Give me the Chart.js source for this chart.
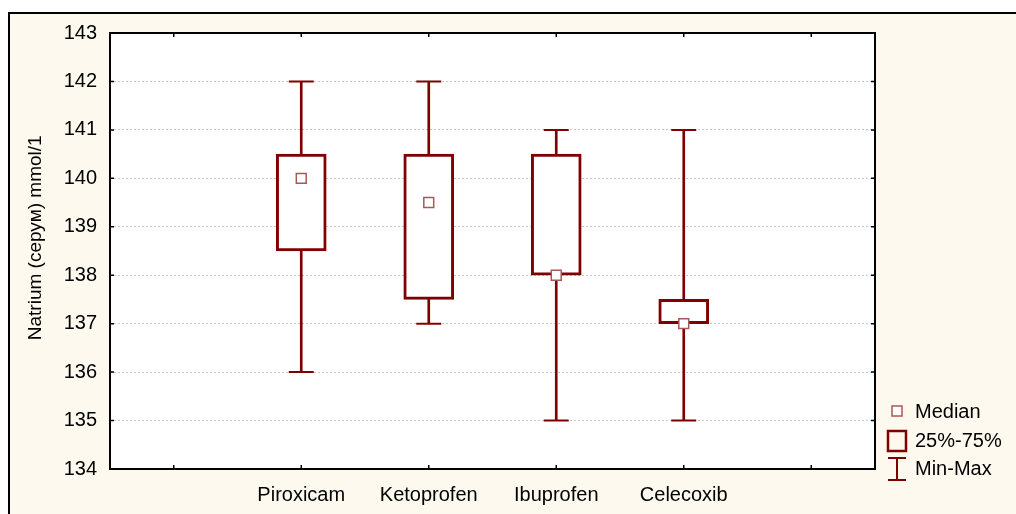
<!DOCTYPE html>
<html>
<head>
<meta charset="utf-8">
<script src="https://cdn.jsdelivr.net/npm/chart.js@4.4.1/dist/chart.umd.min.js"></script>
<style>
    html, body { margin: 0; padding: 0; background: #ffffff; overflow: hidden; }
    #frame {
        position: absolute; left: 8px; top: 12px; width: 1100px; height: 600px;
        border-left: 2px solid #000; border-top: 2px solid #000;
        background: #fdf9ee;
    }
    #boxChart { position: absolute; left: 0; top: 0; }
</style>
</head>
<body>
<div id="frame"></div>
<canvas id="boxChart" width="1016" height="514"></canvas>
<script>
// =========================
// DATA
// =========================
const categories = ["", "Piroxicam", "Ketoprofen", "Ibuprofen", "Celecoxib", ""];
const minValues = [null, 136, 137, 135, 135, null];
const maxValues = [null, 142, 142, 141, 141, null];
const q1Values = [null, 138.5, 137.5, 138, 137, null];
const q3Values = [null, 140.5, 140.5, 140.5, 137.5, null];
const medianValues = [null, 140, 139.5, 138, 137, null];
const yTicks = [134, 135, 136, 137, 138, 139, 140, 141, 142, 143];
const legendLabels = ["Median", "25%-75%", "Min-Max"];

const DARK_RED = "#800000";
const MEDIAN_RED = "#a85858";
const FONT = "'Liberation Sans', Arial, sans-serif";

const boxData = categories.map((c, i) => (q1Values[i] == null ? null : [q1Values[i], q3Values[i]]));
const whiskerData = categories.map((c, i) => (minValues[i] == null ? null : [minValues[i], maxValues[i]]));

// =========================
// PLUGINS
// =========================

// white plot area, frame, inward ticks
const plotFrame = {
    id: "plotFrame",
    beforeDraw(chart) {
        const { ctx, chartArea: a } = chart;
        ctx.save();
        ctx.fillStyle = "#ffffff";
        ctx.fillRect(a.left, a.top, a.right - a.left, a.bottom - a.top);
        ctx.restore();
    },
    afterDraw(chart) {
        const { ctx, chartArea: a, scales } = chart;
        ctx.save();
        ctx.strokeStyle = "#000";
        ctx.lineWidth = 2;
        ctx.strokeRect(a.left, a.top, a.right - a.left, a.bottom - a.top);

        ctx.lineWidth = 1.5;
        ctx.beginPath();
        scales.y.ticks.forEach((t, i) => {
            const y = scales.y.getPixelForTick(i);
            ctx.moveTo(a.left, y); ctx.lineTo(a.left + 4, y);
            ctx.moveTo(a.right, y); ctx.lineTo(a.right - 4, y);
        });
        scales.x.ticks.forEach((t, i) => {
            const x = scales.x.getPixelForTick(i);
            ctx.moveTo(x, a.top); ctx.lineTo(x, a.top + 4);
            ctx.moveTo(x, a.bottom); ctx.lineTo(x, a.bottom - 4);
        });
        ctx.stroke();
        ctx.restore();
    },
};

// legend on the right, below the plot
const boxLegend = {
    id: "boxLegend",
    afterDraw(chart) {
        const { ctx, chartArea: a } = chart;
        const ix = a.right + 22;
        const tx = a.right + 40;
        const rows = [a.bottom - 57, a.bottom - 28, a.bottom];
        ctx.save();

        // median marker
        ctx.strokeStyle = MEDIAN_RED;
        ctx.lineWidth = 1.5;
        ctx.fillStyle = "#fff";
        ctx.fillRect(ix - 5, rows[0] - 6, 10, 10);
        ctx.strokeRect(ix - 5, rows[0] - 6, 10, 10);

        // box
        ctx.strokeStyle = DARK_RED;
        ctx.lineWidth = 2.5;
        ctx.strokeRect(ix - 9, rows[1] - 10, 18, 20);

        // whisker
        ctx.lineWidth = 2;
        ctx.beginPath();
        ctx.moveTo(ix - 9, rows[2] - 11); ctx.lineTo(ix + 9, rows[2] - 11);
        ctx.moveTo(ix, rows[2] - 11); ctx.lineTo(ix, rows[2] + 11);
        ctx.moveTo(ix - 9, rows[2] + 11); ctx.lineTo(ix + 9, rows[2] + 11);
        ctx.stroke();

        ctx.fillStyle = "#000";
        ctx.font = "20px " + FONT;
        ctx.textBaseline = "middle";
        ctx.textAlign = "left";
        legendLabels.forEach((l, i) => ctx.fillText(l, tx, rows[i]));
        ctx.restore();
    },
};

// =========================
// CHART
// =========================
const ctx = document.getElementById("boxChart").getContext("2d");

new Chart(ctx, {
    data: {
        labels: categories,
        datasets: [
            {
                type: "bar",
                label: "Min-Max",
                data: whiskerData,
                backgroundColor: DARK_RED,
                borderWidth: 0,
                barThickness: 2,
                grouped: false,
                order: 5,
            },
            {
                type: "bar",
                label: "25%-75%",
                data: boxData,
                backgroundColor: "#ffffff",
                borderColor: DARK_RED,
                borderWidth: 3,
                borderSkipped: false,
                barThickness: 50,
                grouped: false,
                order: 4,
            },
            {
                type: "line",
                label: "Min",
                data: minValues,
                showLine: false,
                pointStyle: "line",
                pointRadius: 12.5,
                pointBorderWidth: 2,
                pointBorderColor: DARK_RED,
                order: 3,
            },
            {
                type: "line",
                label: "Max",
                data: maxValues,
                showLine: false,
                pointStyle: "line",
                pointRadius: 12.5,
                pointBorderWidth: 2,
                pointBorderColor: DARK_RED,
                order: 3,
            },
            {
                type: "line",
                label: "Median",
                data: medianValues,
                showLine: false,
                pointStyle: "rect",
                pointRadius: 7,
                pointBorderWidth: 1.5,
                pointBorderColor: MEDIAN_RED,
                pointBackgroundColor: "#ffffff",
                order: 1,
            },
        ],
    },
    options: {
        responsive: false,
        animation: false,
        events: [],
        layout: { padding: { top: 33, right: 141, bottom: 0, left: 0 } },
        scales: {
            x: {
                type: "category",
                offset: true,
                grid: { display: false, drawTicks: false },
                border: { display: false },
                ticks: {
                    color: "#000",
                    padding: 14,
                    maxRotation: 0,
                    autoSkip: false,
                    font: { family: FONT, size: 20 },
                },
                afterFit(scale) { scale.height = 45; },
            },
            y: {
                min: 134,
                max: 143,
                afterBuildTicks(scale) { scale.ticks = yTicks.map((v) => ({ value: v })); },
                grid: { color: "#c8c8c8", lineWidth: 1, drawTicks: false },
                border: { display: false, dash: [2, 2] },
                ticks: {
                    color: "#000",
                    padding: 13,
                    font: { family: FONT, size: 20 },
                },
                title: {
                    display: true,
                    text: "     Natrium (серум) mmol/1",
                    color: "#000",
                    font: { family: FONT, size: 19 },
                    padding: { top: 24, bottom: 0 },
                },
                afterFit(scale) { scale.width = 110; },
            },
        },
        plugins: {
            legend: { display: false },
            tooltip: { enabled: false },
        },
    },
    plugins: [plotFrame, boxLegend],
});
</script>
</body>
</html>
